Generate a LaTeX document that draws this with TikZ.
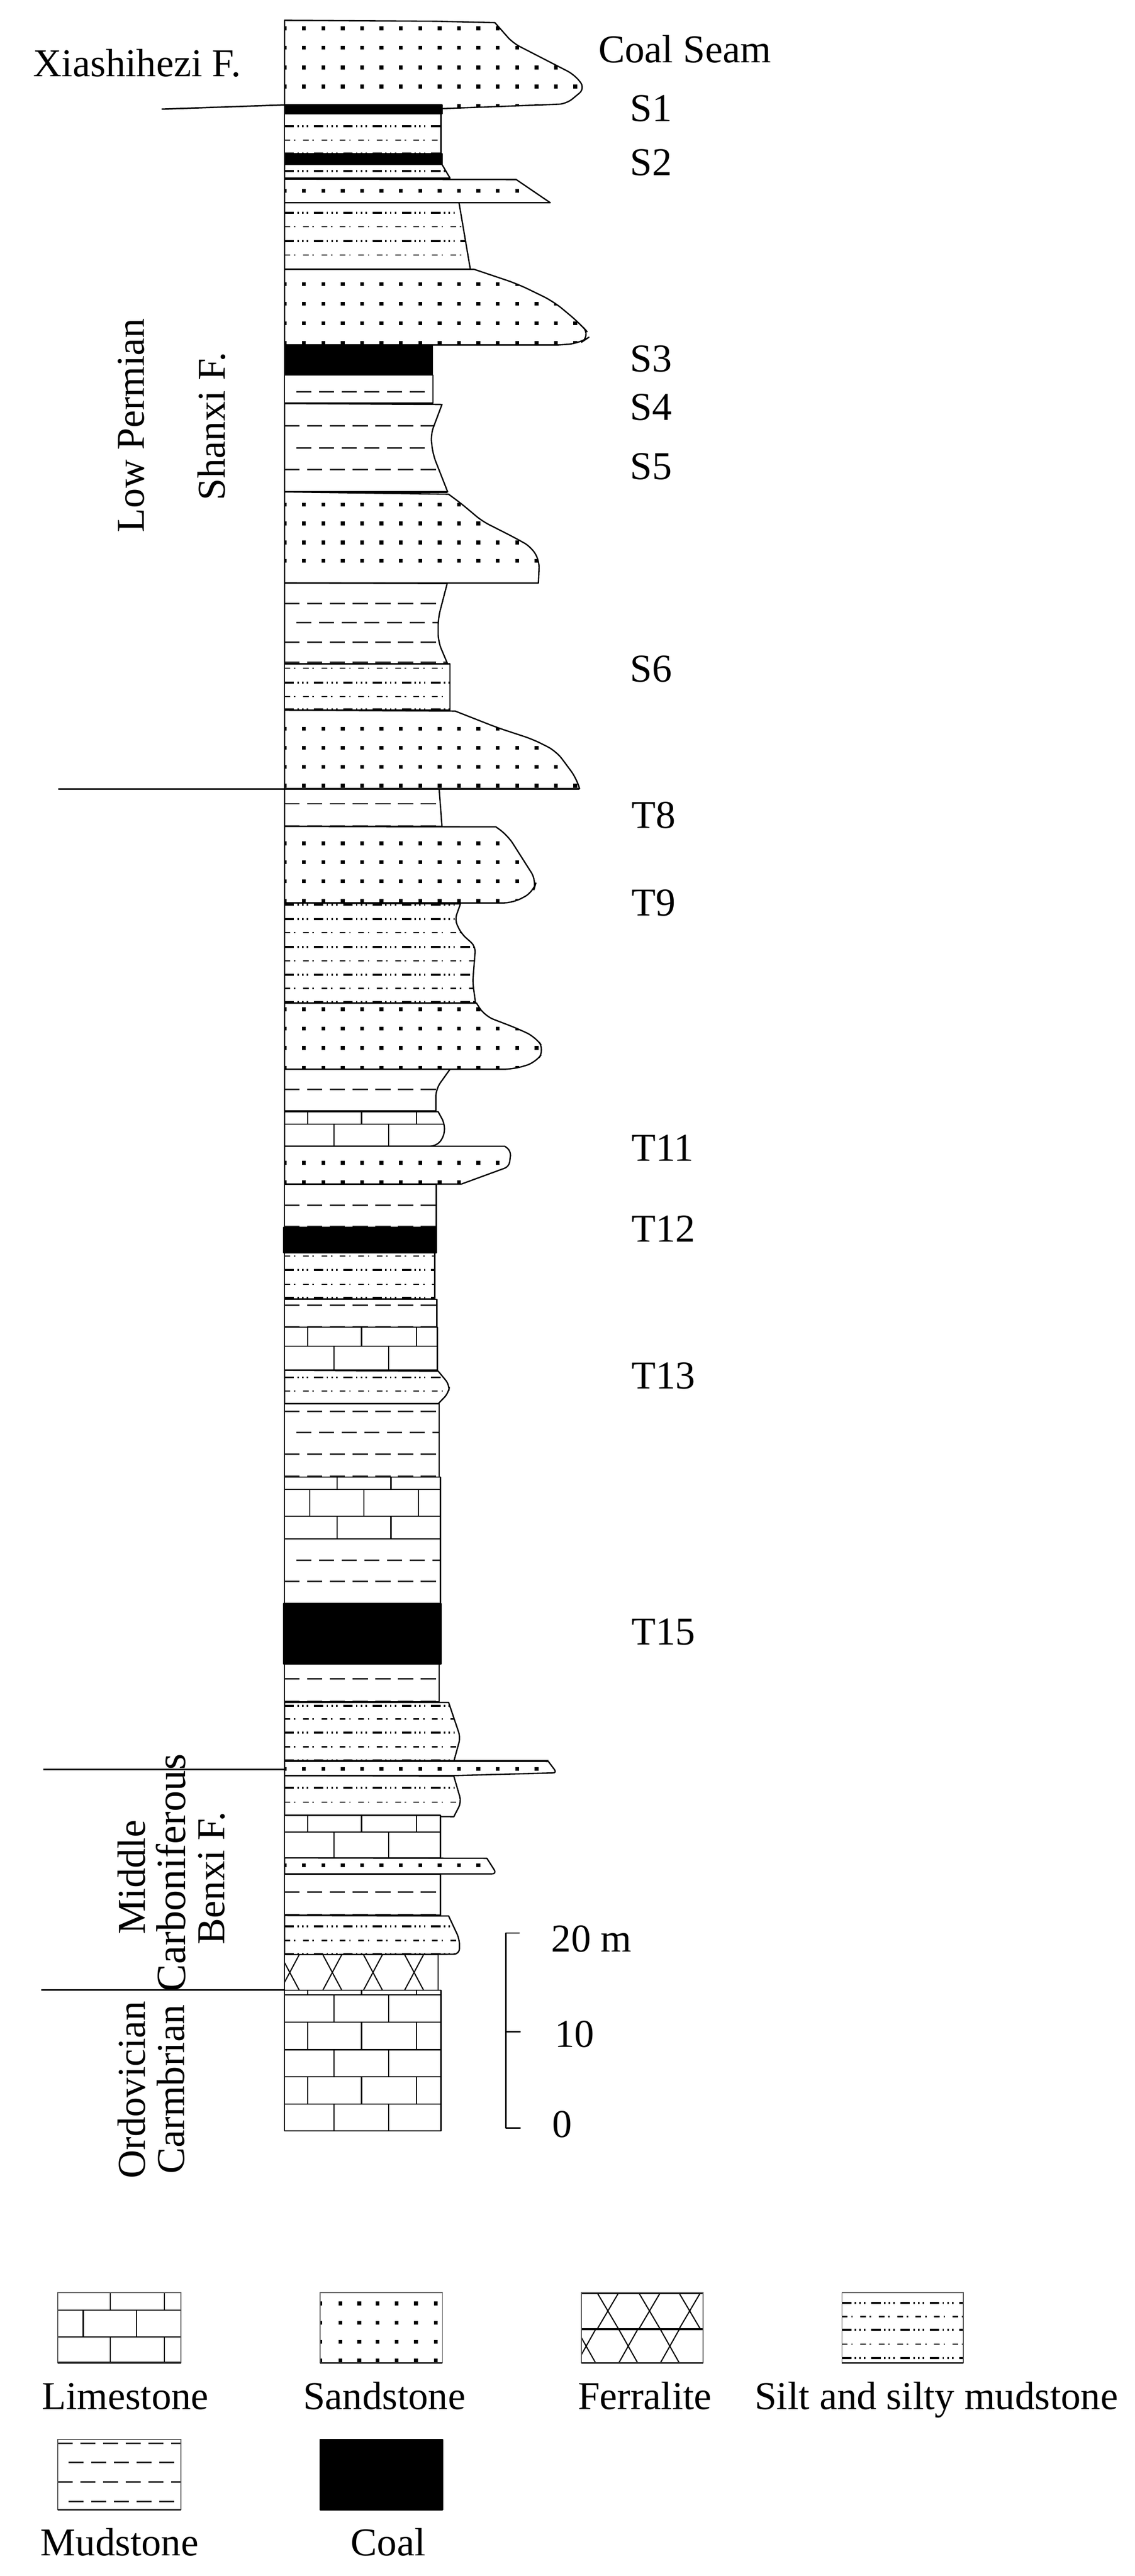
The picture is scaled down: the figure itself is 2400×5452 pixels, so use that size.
\documentclass[tikz,border=0pt]{standalone}
\usepackage{fontspec}
\setmainfont{Liberation Serif}
\tikzset{
  x=0.5pt,y=-0.5pt,
  bedline/.style={draw=black,line width=1.4pt,line join=round},
  keyline/.style={draw=black!65,line width=0.9pt},
  keybase/.style={draw=black!85,line width=1.5pt},
  heavy/.style={draw=black,line width=2.2pt},
  fmline/.style={draw=black,line width=1.5pt},
  siltstrong/.style={draw=black,line width=2pt,dash pattern=on 10pt off 3.5pt on 1.5pt off 3.5pt on 1.5pt off 3.5pt on 1.5pt off 6pt},
  siltweak/.style={draw=black,line width=1.2pt,dash pattern=on 6pt off 4pt on 1.5pt off 8pt},
  mudline/.style={draw=black!85,line width=1.6pt,dash pattern=on 16pt off 8pt},
  brick/.style={draw=black,line width=1.2pt},
  label/.style={inner sep=0pt,font=\fontsize{41.8}{42}\selectfont},
  side/.style={label,anchor=west},
  turned/.style={label,rotate=90,anchor=center},
}
% one bed: white base, clipped pattern, outline
\newcommand\bed[2]{\fill[white] #1;\begin{scope}\clip #1;#2\end{scope}\draw[bedline] #1;}
\newcommand\coalbed[1]{\fill[black] #1;\draw[bedline] #1;}
% one legend box: left x, top y, right x, bottom y, pattern
\newcommand\keybox[5]{\fill[white] (#1,#2) rectangle (#3,#4);\begin{scope}\clip (#1,#2) rectangle (#3,#4);#5\end{scope}\draw[keyline] (#1,#2) rectangle (#3,#4);\draw[keybase] (#1,#4) -- (#3,#4);}
\newcommand\rowdots[1]{\foreach \yy in {#1}{\foreach \k in {0,...,16}{\fill[black] ({602+41*\k-4},{\yy-4}) rectangle +(8,8);}}}
\newcommand\rowss[1]{\foreach \yy in {#1}{\draw[siltstrong] (602,\yy) -- (1100,\yy);}}
\newcommand\rowsw[1]{\foreach \yy in {#1}{\draw[siltweak] (602,\yy) -- (1100,\yy);}}
\newcommand\rowmd[1]{\foreach \yy in {#1}{\draw[mudline] (602,\yy) -- (1100,\yy);}}
\newcommand\rowmo[1]{\foreach \yy in {#1}{\draw[mudline] (627,\yy) -- (1100,\yy);}}
\newcommand\rowbk[3]{\draw[brick] (100,#2) -- (1100,#2);\foreach \xx in {#3}{\draw[brick] (\xx,#1) -- (\xx,#2);}}
\begin{document}
\begin{tikzpicture}
\useasboundingbox (0,0) rectangle (2400,5452);
\fill[white] (0,0) rectangle (2400,5452);

% ---- column, top to bottom ----
\bed{(602,43) -- (925,45) -- (1047,48) [rounded corners=8pt] -- (1085,91) -- (1215,158) -- (1238,187) -- (1198,220) [sharp corners] -- (933,230) -- (602,224) -- cycle}{\rowdots{60,101,143,183,224}}
\coalbed{(602,222) rectangle (935,241)}
\bed{(602,241) -- (933,241) -- (933,325) -- (602,325) -- cycle}{\rowss{267}\rowsw{297}\rowss{325}}
\coalbed{(602,325) rectangle (935,348)}
\bed{(602,348) -- (935,348) -- (952,377) -- (602,377) -- cycle}{\rowss{362}}
\bed{(602,379) -- (1092,380) -- (1164,429) -- (602,429) -- cycle}{\rowdots{404}}
\bed{(602,429) -- (971,429) -- (995,570) -- (602,570) -- cycle}{\rowss{450,510}\rowsw{480,540}}
\bed{(602,570) -- (1003,570) [rounded corners=12pt] -- (1095,601) -- (1171,638) -- (1226,684) -- (1250,711) -- (1226,727) [sharp corners] -- (1182,730) -- (602,730) -- cycle}{\rowdots{601,643,684,726}}
\coalbed{(602,730) rectangle (914,794)}
\bed{(602,794) -- (916,794) -- (916,854) -- (602,854) -- cycle}{\rowmo{829}}
\draw[heavy] (602,854) -- (916,854);
\bed{(602,854) -- (935,856) [rounded corners=8pt] -- (911,920) -- (916,962) [sharp corners] -- (947,1041) -- (602,1041) -- cycle}{\rowmd{901,994}\rowmo{948}}
\draw[heavy] (602,1041) -- (947,1041);
\bed{(602,1041) -- (949,1046) [rounded corners=8pt] -- (976,1066) -- (1020,1103) -- (1085,1136) -- (1123,1157) -- (1141,1186) [sharp corners] -- (1139,1234) -- (602,1234) -- cycle}{\rowdots{1068,1108,1148,1187}}
\bed{(602,1234) -- (946,1235) [rounded corners=8pt] -- (927,1308) -- (927,1358) [sharp corners] -- (946,1403) -- (946,1405) -- (602,1405) -- cycle}{\rowmd{1277,1359,1402}\rowmo{1318}}
\bed{(602,1405) -- (952,1405) -- (952,1503) -- (602,1503) -- cycle}{\rowsw{1414,1474}\rowss{1445,1501}}
\bed{(602,1503) -- (963,1505) [rounded corners=10pt] -- (1052,1540) -- (1128,1565) -- (1177,1590) -- (1220,1648) [sharp corners] -- (1226,1669) -- (602,1669) -- cycle}{\rowdots{1542,1583,1623,1663}}
\bed{(602,1670) -- (929,1670) -- (935,1749) -- (602,1749) -- cycle}{\rowmd{1701,1748}}
\bed{(602,1749) -- (1049,1750) [rounded corners=10pt] -- (1074,1768) -- (1135,1864) -- (1128,1888) -- (1085,1911) [sharp corners] -- (602,1911) -- cycle}{\rowdots{1785,1825,1865,1907}}
\draw[heavy] (602,1911) -- (974,1911);
\bed{(602,1911) -- (974,1913) [rounded corners=6pt] -- (962,1947) -- (976,1976) -- (1006,2003) -- (1000,2079) [sharp corners] -- (1006,2123) -- (602,2123) -- cycle}{\rowss{1915,1945,2004,2063}\rowsw{1974,2034,2092}\rowss{2121}}
\bed{(602,2123) -- (1008,2123) [rounded corners=10pt] -- (1025,2150) -- (1095,2177) -- (1133,2195) -- (1152,2222) -- (1133,2249) -- (1085,2263) [sharp corners] -- (602,2263) -- cycle}{\rowdots{2136,2177,2218,2260}}
\bed{(602,2263) -- (952,2263) [rounded corners=8pt] -- (922,2305) [sharp corners] -- (922,2351) -- (602,2351) -- cycle}{\rowmd{2306,2351}}
\bed{(602,2353) -- (927,2353) [rounded corners=6pt] -- (941,2379) -- (939,2407) -- (922,2426) [sharp corners] -- (602,2426) -- cycle}{\rowbk{2353}{2379}{651,765,881}\rowbk{2379}{2426}{707,822}}
\bed{(602,2426) -- (1068,2426) [rounded corners=5pt] -- (1081,2436) -- (1077,2469) [sharp corners] -- (976,2506) -- (602,2506) -- cycle}{\rowdots{2461,2502}}
\bed{(602,2507) rectangle (923,2598)}{\rowmd{2551,2596}}
\coalbed{(600,2598) rectangle (923,2651)}
\bed{(602,2651) rectangle (920,2749)}{\rowsw{2658,2718}\rowss{2688,2747}}
\bed{(602,2750) rectangle (924,2809)}{\rowmd{2762,2808}}
\bed{(602,2809) rectangle (925,2900)}{\rowbk{2809}{2849}{651,765,881}\rowbk{2849}{2900}{707,822}}
\bed{(602,2900) -- (927,2902) [rounded corners=6pt] -- (951,2931) -- (949,2948) [sharp corners] -- (927,2971) -- (602,2971) -- cycle}{\rowss{2915}\rowsw{2944}}
\bed{(602,2971) rectangle (929,3126)}{\rowmd{2987,3078,3124}\rowmo{3032}}
\bed{(602,3126) rectangle (932,3257)}{\rowbk{3126}{3152}{713,827}\rowbk{3152}{3209}{655,770,885}\rowbk{3209}{3257}{713,827}}
\bed{(602,3257) rectangle (932,3394)}{\rowmo{3302}\rowmd{3347,3394}}
\coalbed{(600,3394) rectangle (933,3522)}
\bed{(602,3522) rectangle (929,3603)}{\rowmd{3553,3601}}
\draw[heavy] (602,3603) -- (929,3603);
\bed{(602,3603) -- (949,3603) [rounded corners=6pt] -- (974,3677) [sharp corners] -- (960,3728) -- (602,3728) -- cycle}{\rowss{3610,3667,3726}\rowsw{3638,3697}}
\bed{(602,3727) -- (1160,3728) [rounded corners=4pt] -- (1178,3752) [sharp corners] -- (960,3758) -- (602,3758) -- cycle}{\rowdots{3744}}
\draw[heavy] (602,3727) -- (1160,3727);
\bed{(602,3758) -- (960,3759) [rounded corners=6pt] -- (976,3814) [sharp corners] -- (960,3845) -- (602,3842) -- cycle}{\rowss{3784}\rowsw{3814}}
\bed{(602,3842) rectangle (932,3932)}{\rowbk{3842}{3877}{651,765,881}\rowbk{3877}{3932}{707,822}}
\bed{(602,3932) -- (1030,3933) [rounded corners=5pt] -- (1051,3966) [sharp corners] -- (602,3966) -- cycle}{\rowdots{3948}}
\bed{(602,3966) rectangle (932,4054)}{\rowmd{4004,4052}}
\draw[heavy] (602,4054) -- (932,4054);
\bed{(602,4054) -- (949,4055) [rounded corners=6pt] -- (972,4104) -- (972,4136) [sharp corners] -- (602,4137) -- cycle}{\rowss{4077}\rowsw{4107}\rowss{4136}}
\bed{(602,4137) rectangle (927,4212)}{\foreach \cc in {613,703,789,876}{\draw[brick] ({\cc-20},4137) -- ({\cc+20},4212);\draw[brick] ({\cc+20},4137) -- ({\cc-20},4212);}}
\bed{(602,4212) rectangle (933,4510)}{\rowbk{4212}{4222}{651,765,881}\rowbk{4222}{4280}{707,822}\rowbk{4280}{4338}{651,765,881}\rowbk{4338}{4395}{707,822}\rowbk{4395}{4453}{651,765,881}\rowbk{4453}{4510}{707,822}}
\draw[bedline] (602,43) -- (602,4510);

% ---- formation boundaries ----
\draw[fmline] (342,231) -- (602,222);
\draw[fmline] (123,1670) -- (1226,1670);
\draw[fmline] (92,3745) -- (602,3745);
\draw[fmline] (87,4212) -- (602,4212);

% ---- scale bar ----
\draw[bedline] (1099,4091) -- (1070,4091) -- (1070,4504) -- (1101,4504);
\draw[bedline] (1070,4300) -- (1101,4300);
\node[side] (scaletop) at (1166,4104) {20 m};
\node[side] (scalemid) at (1173,4305) {10};
\node[side] (scalezero) at (1168,4496) {0};

% ---- texts ----
\node[side] (xia) at (70,133) {Xiashihezi F.};
\node[side] (seam) at (1266,104) {Coal Seam};
\node[side] (s1) at (1333,230) {S1};
\node[side] (s2) at (1333,344) {S2};
\node[side] (s3) at (1333,759) {S3};
\node[side] (s4) at (1333,862) {S4};
\node[side] (s5) at (1333,987) {S5};
\node[side] (s6) at (1333,1416) {S6};
\node[side] (t8) at (1336,1725) {T8};
\node[side] (t9) at (1336,1911) {T9};
\node[side] (t11) at (1336,2430) {T11};
\node[side] (t12) at (1336,2601) {T12};
\node[side] (t13) at (1336,2912) {T13};
\node[side] (t15) at (1336,3454) {T15};
\node[turned] (lowperm) at (278,900) {Low Permian};
\node[turned] (shanxi) at (448,902) {Shanxi F.};
\node[turned] (middle) at (278,3973) {Middle};
\node[turned,font=\fontsize{44}{44}\selectfont] (carbon) at (361,3964) {Carboniferous};
\node[turned] (benxi) at (448,3975) {Benxi F.};
\node[turned] (ordo) at (278,4423) {Ordovician};
\node[turned] (camb) at (361,4422) {Carmbrian};

% ---- legend ----
\keybox{122}{4852}{383}{5001}{\rowbk{4852}{4889}{233,348}\rowbk{4889}{4946}{176,289}\rowbk{4946}{5000}{233,348}}
\keybox{677}{4852}{936}{5001}{\foreach \yy in {4875,4916,4956,4996}{\foreach \xx in {677,720,760,799,839,880,922}{\fill[black] ({\xx-4},{\yy-4}) rectangle +(8,8);}}}
\keybox{1230}{4852}{1487}{5001}{\draw[heavy] (1230,4853) -- (1487,4853);\draw[heavy] (1230,4930) -- (1487,4930);
  \foreach \cc in {1286,1374,1459}{\draw[brick] ({\cc-23},4852) -- ({\cc+23},4930);\draw[brick] ({\cc+23},4852) -- ({\cc-23},4930);}
  \foreach \cc in {1240,1329,1417}{\draw[brick] ({\cc-20},4930) -- ({\cc+20},5001);\draw[brick] ({\cc+20},4930) -- ({\cc-20},5001);}}
\keybox{1781}{4852}{2038}{5001}{\foreach \yy in {4874,4931,4991}{\draw[siltstrong] (1781,\yy) -- (2038,\yy);}\foreach \yy in {4903,4961}{\draw[siltweak] (1781,\yy) -- (2038,\yy);}}
\keybox{122}{5163}{383}{5312}{\foreach \yy in {5171,5253}{\draw[mudline] (122,\yy) -- (383,\yy);}\foreach \yy in {5212,5294}{\draw[mudline] (145,\yy) -- (383,\yy);}}
\coalbed{(677,5163) rectangle (936,5312)}
\node[label,anchor=base] (lglime) at (265,5099) {Limestone};
\node[label,anchor=base] (lgsand) at (813,5099) {Sandstone};
\node[label,anchor=base] (lgferr) at (1364,5099) {Ferralite};
\node[label,anchor=base] (lgsilt) at (1981,5099) {Silt and silty mudstone};
\node[label,anchor=base] (lgmud) at (253,5409) {Mudstone};
\node[label,anchor=base] (lgcoal) at (821,5409) {Coal};
\end{tikzpicture}
\end{document}
